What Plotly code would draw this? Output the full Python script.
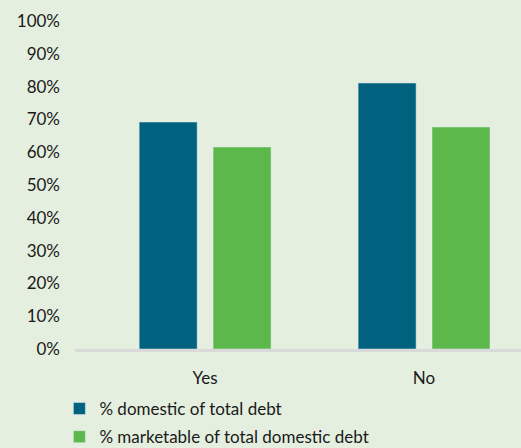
import plotly.graph_objects as go

categories = ["Yes", "No"]
domestic = [0.692, 0.811]
marketable = [0.616, 0.677]
series_names = ["% domestic of total debt", "% marketable of total domestic debt"]
tick_vals = [i / 10 for i in range(11)]
tick_text = [f"{i*10}%" for i in range(11)]

BG = "#e4efdf"
TEAL = "#00627f"
GREEN = "#5db84b"
FONT = "Lato"

W, H, T = 521, 448, 21
PLOT_H = H - T
def py(pixel_y):
    return (H - pixel_y) / PLOT_H

x_idx = list(range(len(categories)))

fig = go.Figure()
fig.add_trace(go.Bar(x=x_idx, y=domestic, name=series_names[0], marker_color=TEAL,
                     width=0.265, offset=-0.301, legendgroup="a"))
fig.add_trace(go.Bar(x=x_idx, y=marketable, name=series_names[1], marker_color=GREEN,
                     width=0.265, offset=0.0365, legendgroup="b"))

fig.update_layout(
    width=W, height=H,
    margin=dict(l=75, r=0, t=T, b=0, pad=0, autoexpand=False),
    paper_bgcolor=BG, plot_bgcolor=BG,
    font=dict(family=FONT, size=17, color="#1a1a1a"),
    barmode="overlay",
    showlegend=True,
    legend=dict(x=-0.035, y=py(391), xanchor="left", yanchor="top",
                traceorder="grouped", tracegroupgap=3,
                font=dict(size=17, family=FONT), bgcolor="rgba(0,0,0,0)",
                itemwidth=30),
)
fig.update_xaxes(
    range=[-0.594, 1.443], tickvals=x_idx, ticktext=categories,
    showgrid=False, showline=True, linecolor="#d9d9d9", linewidth=3,
    ticks="", zeroline=False, ticklabelstandoff=12, fixedrange=True,
)
fig.update_yaxes(
    range=[0, 1], tickvals=tick_vals, ticktext=tick_text,
    domain=[py(349), 1],
    showgrid=False, showline=False, zeroline=False, ticks="",
    ticklabelstandoff=14, fixedrange=True,
)

fig.write_html("out.html")
